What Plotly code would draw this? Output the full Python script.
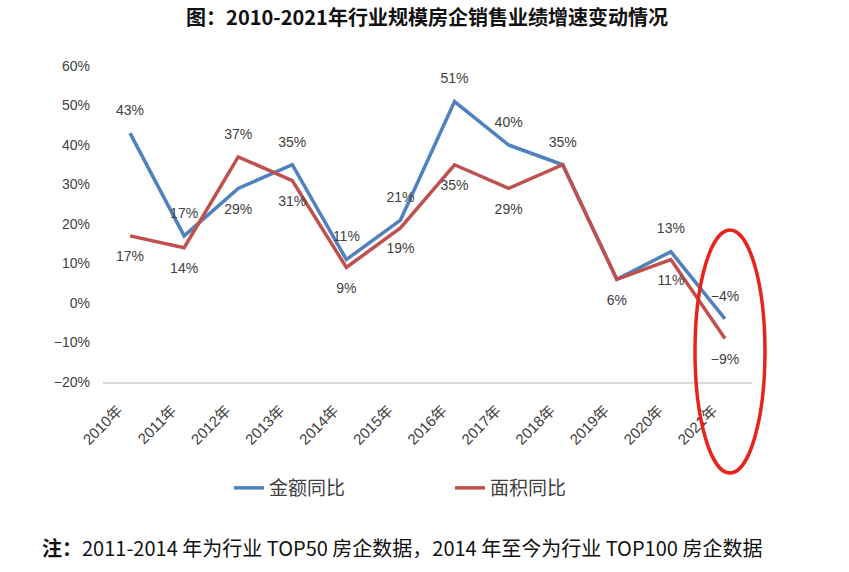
import plotly.graph_objects as go

years = ["2010年", "2011年", "2012年", "2013年", "2014年", "2015年",
         "2016年", "2017年", "2018年", "2019年", "2020年", "2021年"]
amount_yoy = [0.43, 0.17, 0.29, 0.35, 0.11, 0.21, 0.51, 0.40, 0.35, 0.06, 0.13, -0.04]
area_yoy = [0.17, 0.14, 0.37, 0.31, 0.09, 0.19, 0.35, 0.29, 0.35, 0.06, 0.11, -0.09]

# label placement (style only)
amount_pos = ["top center", "top center", "bottom center", "top center", "top center", "top center",
              "top center", "top center", "top center", "bottom center", "top center", "top center"]
area_pos = ["bottom center", "bottom center", "top center", "bottom center", "bottom center", "bottom center",
            "bottom center", "bottom center", "bottom center", "bottom center", "bottom center", "bottom center"]
area_show = [True, True, True, True, True, True, True, True, False, False, True, True]

BLUE = "#4F81BD"
RED = "#C0504D"
FONT = "Liberation Sans, Noto Sans CJK SC, sans-serif"
CJK = "Noto Sans CJK SC, sans-serif"

PL, PR, PT, PB = 103, 752, 66, 382  # target plot box on screen
W, H = 849, 572
PW, PH = PR - PL, PB - PT


def px_x(x):
    return (x - PL) / PW


def px_y(y):
    return (PB - y) / PH


def pct(v):
    return f"{round(v * 100):d}%".replace("-", "−")


amount_text = [pct(v) for v in amount_yoy]
area_text = [pct(v) if s else "" for v, s in zip(area_yoy, area_show)]

# invisible markers are used only to push the data labels away from the lines
ghost = dict(size=22, color="rgba(0,0,0,0)", line=dict(width=0))

fig = go.Figure()
fig.add_trace(go.Scatter(
    x=years, y=amount_yoy, name="金额同比", mode="lines+markers+text",
    line=dict(color=BLUE, width=3.5), marker=ghost, text=amount_text, textposition=amount_pos,
    textfont=dict(size=14, color="#404040", family=FONT), cliponaxis=False,
))
fig.add_trace(go.Scatter(
    x=years, y=area_yoy, name="面积同比", mode="lines+markers+text",
    line=dict(color=RED, width=3.5), marker=ghost, text=area_text, textposition=area_pos,
    textfont=dict(size=14, color="#404040", family=FONT), cliponaxis=False,
))

# red highlight ellipse around 2021
fig.add_shape(type="circle", xref="paper", yref="paper",
              x0=px_x(695), x1=px_x(765), y0=px_y(473), y1=px_y(230),
              line=dict(color="#E8231A", width=3.5), layer="above")

fig.add_annotation(
    text="<b>注：</b>2011-2014 年为行业 TOP50 房企数据，2014 年至今为行业 TOP100 房企数据",
    xref="paper", yref="paper", x=px_x(402), y=px_y(547),
    xanchor="center", yanchor="middle", showarrow=False,
    font=dict(size=20, color="#111111", family=CJK),
)

fig.update_layout(
    width=W, height=H,
    margin=dict(l=PL, r=W - PR, t=PT, b=H - PB),
    paper_bgcolor="white", plot_bgcolor="white",
    title=dict(text="<b>图：2010-2021年行业规模房企销售业绩增速变动情况</b>",
               x=427 / W, xanchor="center", y=1 - 18 / H, yanchor="middle",
               xref="container", yref="container",
               font=dict(size=20, color="#111111", family="Noto Sans CJK SC, serif")),
    font=dict(family=FONT, color="#404040", size=14),
    showlegend=True,
    legend=dict(orientation="h", x=px_x(229), xanchor="left",
                y=px_y(488), yanchor="middle",
                entrywidth=176, entrywidthmode="pixels",
                font=dict(size=19, color="#404040", family=CJK)),
    xaxis=dict(type="category", range=[-0.5, 11.5], showgrid=False, showline=True,
               linecolor="#D9D9D9", linewidth=1.5, tickangle=-45, ticks="",
               ticklabelstandoff=12, ticklabelshift=-12,
               tickfont=dict(size=15, color="#404040")),
    yaxis=dict(range=[-0.2, 0.6], dtick=0.1, tickformat=".0%", showgrid=False,
               zeroline=False, showline=False, ticks="", ticklabelstandoff=12,
               tickfont=dict(size=14, color="#404040")),
)

# remove the default 8px page margin so the figure sits at the window's corner
fig.write_html("out.html", config={"displayModeBar": False},
               post_script="document.body.style.margin='0';")
